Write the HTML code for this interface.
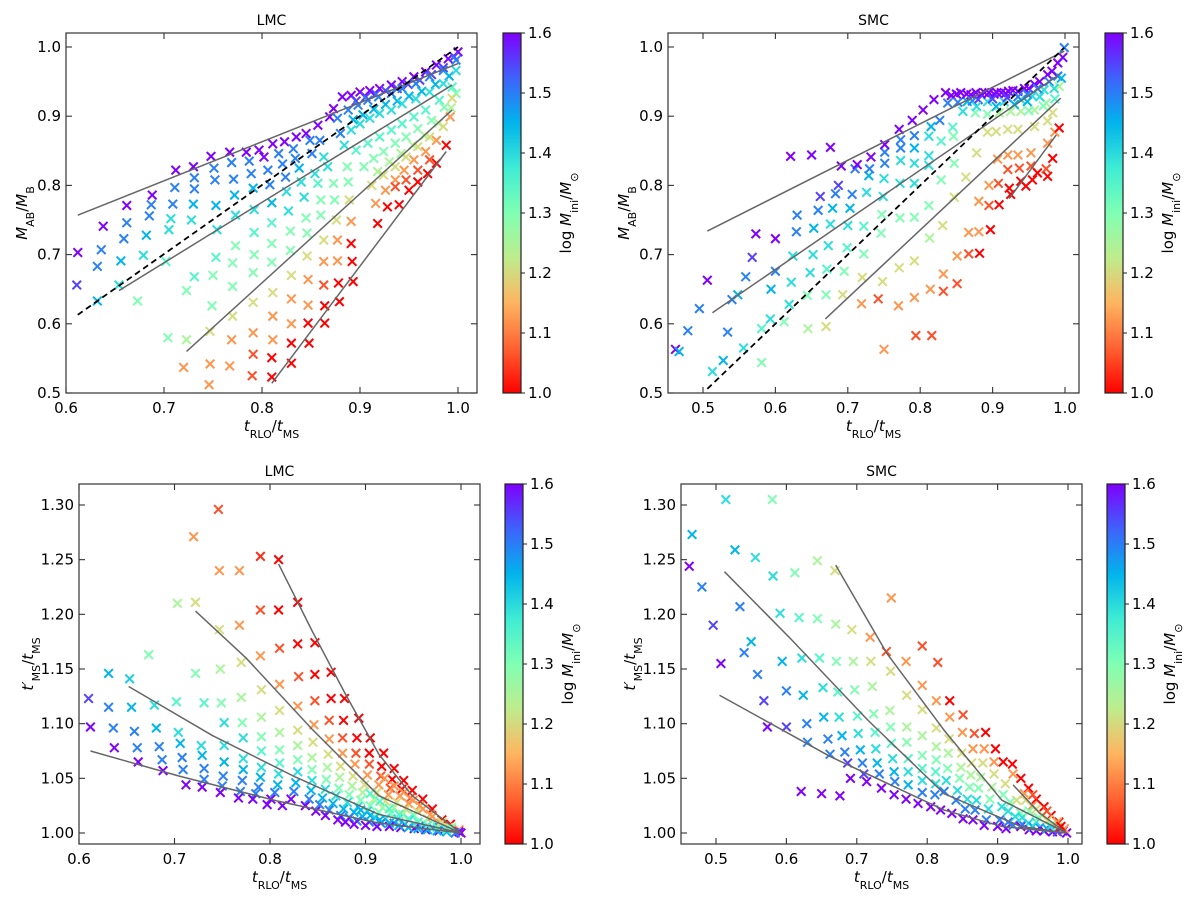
<!DOCTYPE html>
<html><head><meta charset="utf-8"><title>LMC / SMC mass ratio and lifetime charts</title>
<style>
html,body{margin:0;padding:0;background:#fff;}
svg{display:block;font-family:"DejaVu Sans","Liberation Sans",sans-serif;}
</style></head>
<body>
<svg id="fig" width="1200" height="899" viewBox="0 0 1200 899" xmlns="http://www.w3.org/2000/svg">
<defs>
<linearGradient id="rb" x1="0" y1="1" x2="0" y2="0">
<stop offset="0" stop-color="rgb(255,0,0)"/><stop offset="0.125" stop-color="rgb(255,98,49)"/>
<stop offset="0.25" stop-color="rgb(255,180,97)"/><stop offset="0.375" stop-color="rgb(191,236,141)"/>
<stop offset="0.5" stop-color="rgb(128,255,180)"/><stop offset="0.625" stop-color="rgb(63,236,212)"/>
<stop offset="0.75" stop-color="rgb(1,180,236)"/><stop offset="0.875" stop-color="rgb(63,98,251)"/>
<stop offset="1" stop-color="rgb(127,0,255)"/>
</linearGradient>
</defs>
<g font-size="14" text-anchor="middle">
<text x="271.5" y="25">LMC</text>
<text x="873.5" y="25">SMC</text>
<text x="279.5" y="476">LMC</text>
<text x="881.5" y="476">SMC</text>
</g>
<g font-size="15" text-anchor="middle">
<text x="271.5" y="431"><tspan font-style="italic">t</tspan><tspan baseline-shift="sub" font-size="11">RLO</tspan><tspan>/</tspan><tspan font-style="italic">t</tspan><tspan baseline-shift="sub" font-size="11">MS</tspan></text>
<text x="873.5" y="431"><tspan font-style="italic">t</tspan><tspan baseline-shift="sub" font-size="11">RLO</tspan><tspan>/</tspan><tspan font-style="italic">t</tspan><tspan baseline-shift="sub" font-size="11">MS</tspan></text>
<text x="279.5" y="882"><tspan font-style="italic">t</tspan><tspan baseline-shift="sub" font-size="11">RLO</tspan><tspan>/</tspan><tspan font-style="italic">t</tspan><tspan baseline-shift="sub" font-size="11">MS</tspan></text>
<text x="881.5" y="882"><tspan font-style="italic">t</tspan><tspan baseline-shift="sub" font-size="11">RLO</tspan><tspan>/</tspan><tspan font-style="italic">t</tspan><tspan baseline-shift="sub" font-size="11">MS</tspan></text>
<text transform="translate(27,213) rotate(-90)"><tspan font-style="italic">M</tspan><tspan baseline-shift="sub" font-size="11">AB</tspan><tspan>/</tspan><tspan font-style="italic">M</tspan><tspan baseline-shift="sub" font-size="11">B</tspan></text>
<text transform="translate(629,213) rotate(-90)"><tspan font-style="italic">M</tspan><tspan baseline-shift="sub" font-size="11">AB</tspan><tspan>/</tspan><tspan font-style="italic">M</tspan><tspan baseline-shift="sub" font-size="11">B</tspan></text>
<text transform="translate(33,664) rotate(-90)"><tspan font-style="italic">t′</tspan><tspan baseline-shift="sub" font-size="11">MS</tspan><tspan>/</tspan><tspan font-style="italic">t</tspan><tspan baseline-shift="sub" font-size="11">MS</tspan></text>
<text transform="translate(635,664) rotate(-90)"><tspan font-style="italic">t′</tspan><tspan baseline-shift="sub" font-size="11">MS</tspan><tspan>/</tspan><tspan font-style="italic">t</tspan><tspan baseline-shift="sub" font-size="11">MS</tspan></text>
<text transform="translate(571,213) rotate(-90)">log <tspan font-style="italic">M</tspan><tspan baseline-shift="sub" font-size="11">ini</tspan><tspan>/</tspan><tspan font-style="italic">M</tspan><tspan baseline-shift="sub" font-size="11">⊙</tspan></text>
<text transform="translate(1173,213) rotate(-90)">log <tspan font-style="italic">M</tspan><tspan baseline-shift="sub" font-size="11">ini</tspan><tspan>/</tspan><tspan font-style="italic">M</tspan><tspan baseline-shift="sub" font-size="11">⊙</tspan></text>
<text transform="translate(573,664) rotate(-90)">log <tspan font-style="italic">M</tspan><tspan baseline-shift="sub" font-size="11">ini</tspan><tspan>/</tspan><tspan font-style="italic">M</tspan><tspan baseline-shift="sub" font-size="11">⊙</tspan></text>
<text transform="translate(1175,664) rotate(-90)">log <tspan font-style="italic">M</tspan><tspan baseline-shift="sub" font-size="11">ini</tspan><tspan>/</tspan><tspan font-style="italic">M</tspan><tspan baseline-shift="sub" font-size="11">⊙</tspan></text>
</g>
</svg>
<script>
// ---- data: [x, y, logM] ----
const p1Pts=[[0.612,0.703,1.6],[0.611,0.656,1.55],[0.636,0.707,1.5],[0.632,0.683,1.5],[0.632,0.633,1.45],[0.638,0.741,1.6],[0.662,0.771,1.6],[0.662,0.746,1.5],[0.659,0.723,1.5],[0.656,0.691,1.45],[0.654,0.656,1.4],[0.673,0.633,1.3],[0.688,0.786,1.6],[0.687,0.772,1.5],[0.685,0.756,1.5],[0.682,0.728,1.45],[0.679,0.699,1.4],[0.705,0.736,1.4],[0.702,0.69,1.35],[0.704,0.58,1.3],[0.712,0.822,1.6],[0.711,0.797,1.5],[0.709,0.773,1.5],[0.707,0.752,1.4],[0.730,0.827,1.6],[0.731,0.811,1.5],[0.731,0.795,1.5],[0.730,0.773,1.45],[0.728,0.75,1.4],[0.731,0.668,1.35],[0.723,0.648,1.3],[0.723,0.577,1.25],[0.720,0.537,1.12],
[0.748,0.842,1.6],[0.751,0.825,1.5],[0.752,0.808,1.5],[0.753,0.771,1.45],[0.754,0.736,1.4],[0.753,0.696,1.35],[0.75,0.67,1.3],[0.749,0.626,1.3],[0.747,0.589,1.2],[0.747,0.542,1.12],[0.746,0.512,1.12],
[0.767,0.848,1.6],[0.769,0.833,1.5],[0.771,0.809,1.5],[0.772,0.786,1.45],[0.773,0.757,1.4],[0.773,0.713,1.3],[0.770,0.688,1.3],[0.770,0.654,1.3],[0.770,0.611,1.2],[0.769,0.577,1.12],[0.767,0.539,1.12],
[0.784,0.848,1.6],[0.787,0.835,1.5],[0.789,0.817,1.5],[0.791,0.796,1.45],[0.792,0.765,1.4],[0.792,0.732,1.35],[0.792,0.700,1.3],[0.791,0.674,1.3],[0.791,0.631,1.2],[0.791,0.587,1.12],[0.791,0.556,1.06],[0.790,0.525,1.06],
[0.797,0.851,1.6],[0.802,0.841,1.6],[0.806,0.822,1.5],[0.808,0.801,1.5],[0.810,0.775,1.45],[0.810,0.746,1.35],[0.810,0.716,1.3],[0.810,0.689,1.3],[0.811,0.645,1.2],[0.811,0.611,1.12],[0.811,0.577,1.12],[0.810,0.551,1.0],[0.810,0.523,1.0],
[0.811,0.860,1.6],[0.817,0.846,1.5],[0.821,0.831,1.5],[0.824,0.812,1.5],[0.825,0.791,1.4],[0.827,0.763,1.4],[0.829,0.734,1.3],[0.829,0.706,1.3],[0.830,0.670,1.2],[0.830,0.636,1.12],[0.830,0.600,1.12],[0.830,0.572,1.0],[0.830,0.543,1.0],
[0.823,0.863,1.6],[0.835,0.870,1.6],[0.832,0.853,1.5],[0.834,0.839,1.5],[0.838,0.825,1.45],[0.840,0.805,1.4],[0.843,0.783,1.4],[0.845,0.753,1.3],[0.846,0.731,1.3],[0.846,0.698,1.2],[0.847,0.664,1.12],[0.847,0.627,1.12],[0.847,0.601,1.0],[0.848,0.572,1.0],
[0.845,0.875,1.6],[0.849,0.865,1.5],[0.851,0.846,1.5],[0.854,0.817,1.4],[0.857,0.803,1.35],[0.860,0.779,1.3],[0.860,0.757,1.3],[0.863,0.721,1.2],[0.863,0.690,1.12],[0.863,0.656,1.06],[0.864,0.626,1.0],[0.864,0.601,1.0],
[0.857,0.887,1.6],[0.859,0.865,1.5],[0.863,0.841,1.4],[0.867,0.827,1.4],[0.873,0.803,1.3],[0.874,0.779,1.3],[0.876,0.750,1.2],[0.877,0.721,1.12],[0.877,0.691,1.12],[0.878,0.659,1.0],[0.879,0.632,1.0],
[0.869,0.899,1.6],[0.873,0.911,1.6],[0.882,0.928,1.6],[0.877,0.897,1.5],[0.880,0.875,1.5],[0.884,0.858,1.4],[0.887,0.827,1.3],[0.888,0.805,1.3],[0.889,0.779,1.2],[0.891,0.748,1.12],[0.891,0.716,1.0],[0.892,0.690,1.0],[0.893,0.661,1.0],
[0.891,0.930,1.6],[0.9,0.935,1.6],[0.91,0.937,1.6],[0.92,0.94,1.6],[0.932,0.945,1.6],[0.943,0.950,1.6],[0.955,0.957,1.6],[0.967,0.964,1.6],[0.978,0.974,1.6],[0.990,0.983,1.6],[1.0,0.993,1.6],
[0.896,0.922,1.55],[0.906,0.928,1.55],[0.916,0.932,1.55],[0.926,0.937,1.55],[0.938,0.940,1.55],[0.949,0.946,1.55],[0.961,0.952,1.55],[0.973,0.960,1.55],[0.985,0.970,1.55],[0.996,0.986,1.55],
[0.888,0.909,1.5],[0.898,0.916,1.5],[0.908,0.923,1.5],[0.919,0.928,1.5],[0.932,0.933,1.5],[0.943,0.940,1.5],[0.957,0.947,1.5],[0.971,0.957,1.5],[0.985,0.966,1.5],[0.998,0.981,1.5],
[0.893,0.895,1.45],[0.903,0.902,1.45],[0.914,0.910,1.45],[0.926,0.917,1.45],[0.938,0.922,1.45],[0.950,0.929,1.45],[0.963,0.936,1.45],[0.977,0.946,1.45],[0.991,0.958,1.45],
[0.891,0.880,1.4],[0.9,0.889,1.4],[0.91,0.897,1.4],[0.92,0.904,1.4],[0.932,0.909,1.4],[0.943,0.918,1.4],[0.957,0.925,1.4],[0.971,0.935,1.4],[0.985,0.947,1.4],[0.998,0.966,1.4],
[0.896,0.851,1.35],[0.908,0.861,1.35],[0.92,0.870,1.35],[0.932,0.880,1.35],[0.943,0.889,1.35],[0.955,0.899,1.35],[0.967,0.909,1.35],[0.981,0.923,1.35],[0.994,0.942,1.35],
[0.904,0.827,1.3],[0.914,0.839,1.3],[0.924,0.849,1.3],[0.936,0.861,1.3],[0.947,0.870,1.3],[0.959,0.882,1.3],[0.973,0.894,1.3],[0.986,0.913,1.3],[0.998,0.933,1.3],
[0.918,0.820,1.25],[0.930,0.834,1.25],[0.942,0.846,1.25],[0.954,0.858,1.25],[0.966,0.872,1.25],[0.980,0.890,1.25],[0.993,0.912,1.25],
[0.912,0.800,1.2],[0.924,0.815,1.2],[0.936,0.827,1.2],[0.947,0.841,1.2],[0.959,0.856,1.2],[0.971,0.870,1.2],[0.985,0.885,1.2],[0.994,0.926,1.2],
[0.916,0.774,1.12],[0.926,0.793,1.12],[0.936,0.808,1.12],[0.945,0.822,1.12],[0.955,0.837,1.12],[0.967,0.849,1.12],[0.978,0.865,1.12],[0.992,0.899,1.12],
[0.918,0.745,1.0],[0.928,0.769,1.0],[0.94,0.772,1.0],[0.95,0.793,1.0],[0.959,0.805,1.0],[0.969,0.817,1.0],[0.978,0.832,1.0],[0.988,0.858,1.0],[0.936,0.798,1.06],[0.947,0.808,1.06],[0.959,0.822,1.06],[0.971,0.837,1.06]];
const p1Fits=[[[0.612,0.757],[1.0,0.976]],[[0.654,0.648],[0.994,0.945]],[[0.723,0.560],[0.994,0.909]],[[0.810,0.514],[0.988,0.849]]];
const p1Dash=[[0.612,0.613],[1.0,1.0]];

const p2Pts=[[0.462,0.563,1.6],[0.467,0.560,1.45],[0.479,0.590,1.5],[0.495,0.622,1.5],[0.506,0.663,1.6],[0.513,0.531,1.4],[0.528,0.547,1.45],[0.534,0.588,1.5],[0.540,0.635,1.5],[0.548,0.642,1.45],[0.556,0.565,1.4],[0.559,0.668,1.5],[0.568,0.696,1.55],[0.573,0.730,1.6],[0.581,0.593,1.35],[0.581,0.544,1.3],[0.593,0.607,1.4],[0.594,0.650,1.45],[0.600,0.676,1.5],[0.600,0.723,1.6],[0.612,0.603,1.3],[0.619,0.628,1.4],[0.622,0.660,1.4],[0.624,0.698,1.4],[0.621,0.842,1.6],[0.629,0.733,1.5],[0.630,0.757,1.5],[0.644,0.641,1.3],[0.645,0.593,1.25],[0.648,0.674,1.4],[0.650,0.844,1.6],[0.652,0.700,1.4],[0.653,0.738,1.45],[0.659,0.764,1.5],[0.662,0.784,1.55],
[0.670,0.596,1.2],[0.670,0.642,1.3],[0.671,0.679,1.35],[0.673,0.713,1.4],[0.676,0.855,1.6],[0.676,0.744,1.4],[0.679,0.767,1.45],[0.683,0.788,1.5],[0.687,0.800,1.55],[0.691,0.828,1.6],[0.693,0.642,1.2],[0.695,0.676,1.3],[0.699,0.710,1.35],[0.700,0.742,1.4],[0.703,0.767,1.45],[0.706,0.787,1.5],[0.710,0.824,1.5],[0.713,0.830,1.6],
[0.719,0.629,1.12],[0.720,0.667,1.2],[0.722,0.701,1.3],[0.722,0.741,1.35],[0.726,0.790,1.4],[0.729,0.814,1.45],[0.730,0.824,1.5],[0.732,0.841,1.6],[0.742,0.636,1.06],[0.746,0.731,1.3],[0.747,0.758,1.3],[0.749,0.784,1.4],[0.750,0.810,1.4],[0.750,0.563,1.12],[0.748,0.661,1.2],[0.751,0.832,1.5],[0.751,0.848,1.5],[0.751,0.859,1.6],
[0.770,0.626,1.12],[0.771,0.681,1.2],[0.772,0.753,1.3],[0.772,0.803,1.4],[0.773,0.836,1.4],[0.773,0.854,1.5],[0.773,0.866,1.5],[0.771,0.881,1.6],[0.792,0.638,1.12],[0.792,0.691,1.2],[0.792,0.754,1.3],[0.792,0.803,1.4],[0.792,0.832,1.4],[0.792,0.854,1.45],[0.792,0.872,1.5],[0.789,0.894,1.6],
[0.794,0.583,1.06],[0.816,0.583,1.06],[0.814,0.650,1.12],[0.813,0.724,1.25],[0.812,0.771,1.3],[0.812,0.829,1.4],[0.812,0.843,1.4],[0.812,0.871,1.4],[0.815,0.885,1.45],[0.804,0.909,1.6],[0.819,0.924,1.6],[0.827,0.894,1.5],[0.829,0.864,1.35],[0.829,0.808,1.3],[0.831,0.742,1.2],[0.832,0.672,1.12],[0.832,0.647,1.06],
[0.835,0.934,1.6],[0.845,0.884,1.35],[0.846,0.871,1.3],[0.847,0.832,1.3],[0.847,0.783,1.2],[0.851,0.698,1.12],[0.851,0.658,1.06],[0.856,0.934,1.6],[0.859,0.907,1.4],[0.863,0.812,1.2],[0.867,0.732,1.12],[0.867,0.701,1.06],[0.877,0.934,1.6],[0.876,0.905,1.3],[0.878,0.847,1.2],[0.881,0.733,1.12],[0.881,0.777,1.12],[0.882,0.702,1.0],
[0.895,0.934,1.6],[0.893,0.903,1.3],[0.893,0.877,1.2],[0.895,0.800,1.12],[0.895,0.771,1.06],[0.897,0.736,1.0],[0.912,0.934,1.6],[0.909,0.905,1.25],[0.905,0.878,1.2],[0.907,0.838,1.12],[0.908,0.803,1.06],[0.909,0.772,1.0],
[0.928,0.937,1.6],[0.925,0.907,1.25],[0.921,0.881,1.2],[0.921,0.844,1.12],[0.921,0.823,1.06],[0.923,0.796,1.0],[0.925,0.787,1.0],[0.944,0.940,1.6],[0.939,0.924,1.4],[0.939,0.907,1.25],[0.935,0.881,1.2],[0.935,0.844,1.12],[0.937,0.825,1.06],[0.939,0.806,1.0],[0.946,0.799,1.0],
[0.958,0.946,1.6],[0.955,0.929,1.4],[0.958,0.909,1.25],[0.958,0.885,1.2],[0.953,0.847,1.12],[0.953,0.828,1.06],[0.955,0.808,1.0],[0.962,0.818,1.0],[0.976,0.960,1.6],[0.971,0.938,1.4],[0.974,0.919,1.25],[0.976,0.893,1.2],[0.976,0.861,1.12],[0.974,0.824,1.06],[0.976,0.813,1.0],[0.983,0.839,1.0],
[0.990,0.977,1.6],[0.990,0.958,1.5],[0.992,0.943,1.25],[0.983,0.905,1.2],[0.986,0.877,1.12],[0.992,0.883,1.0],[0.999,0.999,1.5],[0.997,0.985,1.6],[0.838,0.919,1.5],[0.865,0.921,1.45],[0.893,0.921,1.4],[0.916,0.921,1.4],
[0.843,0.930,1.6],[0.850,0.932,1.6],[0.864,0.932,1.6],[0.870,0.931,1.6],[0.884,0.932,1.6],[0.889,0.934,1.6],[0.902,0.932,1.6],[0.906,0.934,1.6],[0.918,0.933,1.6],[0.922,0.936,1.6],[0.935,0.936,1.6],[0.950,0.940,1.6],[0.965,0.950,1.6],[0.982,0.965,1.6],
[0.852,0.920,1.5],[0.872,0.922,1.5],[0.880,0.924,1.55],[0.900,0.925,1.55],[0.920,0.927,1.55],[0.935,0.928,1.5],[0.948,0.932,1.5],[0.962,0.940,1.5],[0.978,0.950,1.5],
[0.878,0.914,1.4],[0.905,0.914,1.45],[0.930,0.917,1.45],[0.948,0.921,1.45],[0.965,0.928,1.4],[0.985,0.940,1.4],[0.986,0.925,1.35],[0.970,0.915,1.3],[0.950,0.908,1.3],[0.995,0.955,1.45]];
const p2Fits=[[[0.506,0.734],[0.999,0.994]],[[0.513,0.616],[0.992,0.960]],[[0.669,0.607],[0.994,0.926]],[[0.923,0.781],[0.988,0.873]]];
const p2Dash=[[0.506,0.506],[0.999,0.999]];

const p3Pts=[[0.610,1.123,1.55],[0.612,1.097,1.6],[0.631,1.146,1.45],[0.631,1.115,1.5],[0.636,1.096,1.5],[0.637,1.078,1.6],[0.653,1.141,1.42],[0.655,1.115,1.45],[0.658,1.093,1.5],[0.661,1.078,1.5],[0.662,1.065,1.6],[0.673,1.163,1.3],[0.679,1.117,1.4],[0.681,1.096,1.45],[0.684,1.079,1.5],[0.687,1.067,1.5],[0.688,1.057,1.6],
[0.703,1.210,1.25],[0.702,1.120,1.35],[0.704,1.092,1.4],[0.706,1.082,1.45],[0.708,1.069,1.5],[0.709,1.058,1.5],[0.712,1.044,1.6],[0.720,1.271,1.12],[0.722,1.211,1.2],[0.722,1.146,1.3],[0.731,1.119,1.35],[0.728,1.080,1.4],[0.729,1.071,1.45],[0.731,1.059,1.5],[0.731,1.049,1.5],[0.729,1.042,1.6],
[0.746,1.296,1.06],[0.747,1.240,1.12],[0.747,1.186,1.2],[0.748,1.150,1.25],[0.749,1.119,1.3],[0.752,1.101,1.4],[0.752,1.080,1.4],[0.752,1.065,1.45],[0.751,1.052,1.5],[0.750,1.043,1.5],[0.748,1.037,1.6],
[0.768,1.240,1.12],[0.768,1.190,1.12],[0.770,1.156,1.2],[0.770,1.124,1.25],[0.771,1.101,1.3],[0.772,1.087,1.4],[0.772,1.068,1.4],[0.772,1.058,1.45],[0.771,1.048,1.5],[0.769,1.038,1.5],[0.767,1.032,1.6],
[0.790,1.253,1.03],[0.790,1.204,1.06],[0.790,1.162,1.12],[0.791,1.131,1.2],[0.791,1.106,1.25],[0.791,1.088,1.3],[0.791,1.075,1.35],[0.791,1.060,1.4],[0.790,1.051,1.45],[0.788,1.042,1.5],[0.785,1.036,1.5],[0.782,1.031,1.6],
[0.809,1.250,1.0],[0.809,1.204,1.0],[0.810,1.169,1.06],[0.810,1.136,1.12],[0.810,1.112,1.2],[0.810,1.092,1.25],[0.810,1.076,1.3],[0.810,1.064,1.35],[0.809,1.054,1.4],[0.808,1.044,1.45],[0.805,1.037,1.5],[0.801,1.031,1.6],[0.797,1.026,1.6],
[0.829,1.211,1.0],[0.829,1.173,1.0],[0.830,1.143,1.06],[0.829,1.116,1.12],[0.829,1.094,1.2],[0.829,1.080,1.25],[0.829,1.067,1.3],[0.829,1.056,1.4],[0.827,1.046,1.45],[0.825,1.038,1.5],[0.822,1.031,1.6],[0.813,1.025,1.6],
[0.847,1.174,1.0],[0.847,1.145,1.0],[0.847,1.121,1.06],[0.846,1.099,1.12],[0.845,1.083,1.2],[0.844,1.069,1.25],[0.844,1.058,1.3],[0.844,1.048,1.4],[0.843,1.039,1.45],[0.841,1.031,1.5],[0.837,1.025,1.6],
[0.864,1.147,1.0],[0.864,1.123,1.0],[0.862,1.103,1.06],[0.862,1.086,1.12],[0.861,1.072,1.2],[0.860,1.060,1.25],[0.859,1.049,1.3],[0.858,1.040,1.4],[0.855,1.032,1.45],[0.852,1.026,1.5],[0.848,1.020,1.6],
[0.878,1.123,1.0],[0.877,1.103,1.0],[0.876,1.087,1.06],[0.876,1.073,1.12],[0.874,1.061,1.2],[0.873,1.051,1.25],[0.872,1.041,1.3],[0.869,1.034,1.4],[0.866,1.027,1.45],[0.862,1.021,1.5],[0.858,1.016,1.6],
[0.893,1.105,1.0],[0.891,1.087,1.0],[0.890,1.073,1.06],[0.889,1.063,1.12],[0.887,1.052,1.2],[0.886,1.043,1.25],[0.883,1.035,1.3],[0.881,1.028,1.4],[0.877,1.022,1.45],[0.874,1.016,1.5],[0.871,1.012,1.6],
[0.905,1.087,1.0],[0.904,1.073,1.0],[0.904,1.063,1.06],[0.902,1.053,1.12],[0.899,1.044,1.2],[0.897,1.037,1.25],[0.895,1.030,1.3],[0.892,1.024,1.4],[0.888,1.019,1.45],[0.883,1.014,1.5],[0.879,1.010,1.6],
[0.919,1.073,1.0],[0.917,1.061,1.0],[0.916,1.052,1.06],[0.914,1.044,1.12],[0.912,1.037,1.2],[0.909,1.031,1.25],[0.905,1.025,1.3],[0.902,1.020,1.4],[0.897,1.015,1.45],[0.891,1.011,1.5],[0.888,1.008,1.6],
[0.930,1.059,1.0],[0.928,1.049,1.0],[0.926,1.041,1.06],[0.924,1.035,1.12],[0.921,1.029,1.2],[0.918,1.023,1.25],[0.914,1.019,1.3],[0.910,1.014,1.4],[0.904,1.010,1.5],[0.900,1.007,1.6],
[0.940,1.048,1.0],[0.938,1.040,1.0],[0.936,1.034,1.12],[0.933,1.028,1.2],[0.930,1.023,1.25],[0.926,1.018,1.3],[0.921,1.013,1.4],[0.916,1.009,1.5],[0.912,1.006,1.6],
[0.949,1.039,1.0],[0.947,1.032,1.06],[0.945,1.027,1.12],[0.942,1.022,1.2],[0.939,1.017,1.25],[0.934,1.013,1.4],[0.930,1.009,1.5],[0.925,1.006,1.6],
[0.960,1.031,1.0],[0.957,1.025,1.12],[0.954,1.020,1.2],[0.951,1.016,1.3],[0.946,1.012,1.4],[0.941,1.008,1.5],[0.937,1.005,1.6],
[0.970,1.022,1.0],[0.968,1.017,1.12],[0.965,1.013,1.2],[0.961,1.009,1.3],[0.956,1.006,1.5],[0.951,1.004,1.6],
[0.980,1.012,1.0],[0.979,1.009,1.12],[0.975,1.007,1.3],[0.970,1.005,1.5],[0.963,1.003,1.6],[0.989,1.008,1.0],[0.987,1.005,1.2],[0.984,1.003,1.4],[0.977,1.002,1.6],[0.998,1.003,1.12],[0.998,1.001,1.6],[1.0,1.000,1.6],[0.994,1.000,1.5],
[0.895,1.021,1.45],[0.905,1.016,1.45],[0.915,1.012,1.45],[0.925,1.009,1.45],[0.935,1.007,1.45],[0.945,1.005,1.45],[0.955,1.004,1.45],[0.965,1.003,1.45],[0.975,1.002,1.45],[0.985,1.001,1.45],
[0.905,1.036,1.35],[0.915,1.029,1.35],[0.925,1.022,1.35],[0.935,1.017,1.35],[0.945,1.013,1.35],[0.955,1.010,1.35],[0.965,1.007,1.35],[0.975,1.005,1.35],[0.985,1.003,1.35],
[0.920,1.050,1.12],[0.930,1.043,1.12],[0.940,1.037,1.12],[0.950,1.030,1.12],[0.960,1.022,1.12],[0.970,1.015,1.12],[0.980,1.010,1.2],[0.990,1.005,1.3]];
const p3Fits=[[[0.612,1.075],[0.705,1.052],[0.809,1.029],[0.914,1.009],[1.0,1.0]],
[[0.652,1.134],[0.740,1.089],[0.827,1.051],[0.914,1.017],[1.0,1.0]],
[[0.722,1.203],[0.775,1.160],[0.844,1.095],[0.914,1.034],[1.0,1.0]],
[[0.809,1.246],[0.844,1.185],[0.879,1.127],[0.914,1.072],[0.949,1.034],[1.0,1.0]]];

const p4Pts=[[0.462,1.244,1.6],[0.466,1.273,1.45],[0.480,1.225,1.5],[0.496,1.190,1.55],[0.507,1.155,1.6],[0.514,1.305,1.4],[0.527,1.259,1.45],[0.534,1.207,1.5],[0.540,1.165,1.5],[0.550,1.175,1.45],[0.556,1.252,1.4],[0.559,1.145,1.5],[0.568,1.121,1.55],[0.573,1.097,1.6],[0.580,1.305,1.3],[0.581,1.235,1.4],[0.591,1.201,1.4],[0.594,1.157,1.45],[0.600,1.130,1.5],[0.600,1.097,1.55],
[0.612,1.238,1.3],[0.618,1.197,1.35],[0.622,1.160,1.4],[0.624,1.126,1.45],[0.621,1.038,1.6],[0.629,1.100,1.5],[0.630,1.083,1.5],[0.644,1.249,1.25],[0.644,1.196,1.3],[0.647,1.160,1.35],[0.652,1.133,1.4],[0.653,1.106,1.45],[0.650,1.036,1.6],[0.659,1.086,1.5],[0.662,1.072,1.5],
[0.669,1.240,1.2],[0.670,1.191,1.25],[0.671,1.157,1.3],[0.673,1.129,1.35],[0.675,1.106,1.4],[0.679,1.089,1.45],[0.683,1.074,1.5],[0.676,1.034,1.6],[0.687,1.064,1.55],[0.691,1.050,1.6],[0.693,1.186,1.2],[0.695,1.157,1.25],[0.697,1.131,1.3],[0.701,1.107,1.35],[0.702,1.091,1.4],[0.705,1.076,1.45],[0.708,1.064,1.5],[0.710,1.054,1.55],[0.714,1.047,1.6],
[0.719,1.179,1.12],[0.720,1.157,1.2],[0.722,1.134,1.25],[0.724,1.109,1.3],[0.726,1.092,1.35],[0.727,1.077,1.4],[0.729,1.064,1.45],[0.732,1.054,1.5],[0.735,1.041,1.6],[0.742,1.166,1.06],[0.748,1.148,1.2],[0.749,1.215,1.12],[0.747,1.112,1.25],[0.748,1.097,1.3],[0.749,1.082,1.35],[0.751,1.068,1.4],[0.753,1.056,1.45],[0.754,1.047,1.5],[0.753,1.035,1.6],
[0.770,1.157,1.12],[0.771,1.126,1.2],[0.771,1.097,1.25],[0.771,1.083,1.3],[0.773,1.068,1.35],[0.773,1.056,1.4],[0.773,1.044,1.45],[0.770,1.031,1.6],[0.793,1.171,1.06],[0.793,1.135,1.12],[0.793,1.113,1.2],[0.793,1.089,1.25],[0.793,1.071,1.3],[0.793,1.059,1.35],[0.793,1.048,1.4],[0.793,1.037,1.5],[0.787,1.027,1.6],
[0.815,1.156,1.06],[0.813,1.121,1.12],[0.813,1.096,1.2],[0.813,1.079,1.25],[0.813,1.067,1.3],[0.812,1.056,1.35],[0.812,1.045,1.4],[0.811,1.035,1.5],[0.805,1.024,1.6],[0.832,1.121,1.0],[0.832,1.106,1.12],[0.831,1.086,1.2],[0.830,1.073,1.25],[0.829,1.059,1.3],[0.827,1.048,1.4],[0.824,1.038,1.5],[0.819,1.021,1.6],
[0.851,1.108,1.06],[0.850,1.092,1.12],[0.849,1.073,1.2],[0.848,1.060,1.25],[0.846,1.050,1.3],[0.843,1.039,1.4],[0.841,1.030,1.5],[0.835,1.018,1.6],[0.867,1.091,1.06],[0.883,1.092,1.0],[0.865,1.077,1.12],[0.863,1.064,1.2],[0.862,1.053,1.25],[0.860,1.042,1.3],[0.857,1.031,1.4],[0.854,1.022,1.5],[0.851,1.013,1.6],
[0.881,1.077,1.12],[0.897,1.077,1.0],[0.879,1.064,1.2],[0.876,1.051,1.25],[0.873,1.041,1.3],[0.870,1.030,1.4],[0.868,1.021,1.5],[0.865,1.012,1.6],[0.895,1.065,1.12],[0.908,1.065,1.0],[0.921,1.063,1.0],[0.895,1.054,1.2],[0.892,1.042,1.25],[0.889,1.031,1.3],[0.887,1.022,1.4],[0.884,1.012,1.5],[0.881,1.007,1.6],
[0.922,1.054,1.12],[0.933,1.050,1.0],[0.911,1.045,1.2],[0.908,1.035,1.3],[0.906,1.024,1.4],[0.903,1.012,1.5],[0.900,1.006,1.6],[0.944,1.041,1.0],[0.955,1.031,1.0],[0.966,1.024,1.0],[0.976,1.016,1.0],[0.987,1.010,1.0],[0.938,1.036,1.12],[0.949,1.025,1.12],[0.963,1.016,1.2],[0.927,1.030,1.2],[0.933,1.018,1.3],[0.925,1.015,1.4],[0.944,1.009,1.4],[0.922,1.007,1.5],[0.960,1.005,1.5],[0.933,1.006,1.6],[0.966,1.002,1.6],[0.993,1.002,1.6],[0.998,1.000,1.6],[0.995,1.004,1.12],[0.976,1.007,1.3],
[0.912,1.004,1.6],[0.945,1.003,1.6],[0.955,1.002,1.6],[0.978,1.001,1.6],[0.985,1.001,1.55],[0.915,1.010,1.5],[0.935,1.008,1.5],[0.950,1.006,1.45],[0.970,1.004,1.45],[0.915,1.020,1.4],[0.935,1.014,1.4],[0.955,1.010,1.4],[0.975,1.006,1.4],[0.918,1.028,1.3],[0.945,1.020,1.3],[0.958,1.014,1.3],[0.985,1.006,1.3],[0.940,1.030,1.2],[0.955,1.022,1.2],[0.972,1.012,1.2],[0.985,1.010,1.12],[0.970,1.020,1.06],[0.950,1.035,1.06],[0.990,1.006,1.0]];
const p4Fits=[[[0.505,1.126],[0.662,1.070],[0.824,1.021],[0.906,1.006],[0.998,1.0]],
[[0.512,1.239],[0.607,1.177],[0.716,1.103],[0.824,1.036],[0.933,1.006],[0.998,1.0]],
[[0.670,1.245],[0.743,1.164],[0.824,1.094],[0.906,1.030],[0.998,1.0]],
[[0.922,1.044],[0.960,1.018],[0.998,1.0]]];

const topXTicks=[0.6,0.7,0.8,0.9,1.0];
const smcXTicks=[0.5,0.6,0.7,0.8,0.9,1.0];
const topYTicks=[0.5,0.6,0.7,0.8,0.9,1.0];
const botYTicks=[1.00,1.05,1.10,1.15,1.20,1.25,1.30];
const cbTicks=[1.0,1.1,1.2,1.3,1.4,1.5,1.6];

// ---- rendering ----
const NS='http://www.w3.org/2000/svg';
const svg=document.getElementById('fig');
function mk(tag,attrs,parent){const e=document.createElementNS(NS,tag);for(const k in attrs)e.setAttribute(k,attrs[k]);(parent||svg).appendChild(e);return e;}
function lin(d0,d1,r0,r1){return v=>r0+(v-d0)*(r1-r0)/(d1-d0);}
function rainbow(v){const x=Math.min(1,Math.max(0,(1.6-v)/0.6));const r=Math.min(1,Math.abs(2*x-0.5)),g=Math.sin(Math.PI*x),b=Math.cos(Math.PI*x/2);return 'rgb('+Math.round(r*255)+','+Math.round(g*255)+','+Math.round(b*255)+')';}

const panels=[
 {id:'lmc-top',L:66,R:477,T:33,B:393,xs:lin(0.6,1.0,66,458),ys:lin(0.5,1.0,393,47),xt:topXTicks,yt:topYTicks,yd:1,pts:p1Pts,fits:p1Fits,dash:p1Dash,cb:503},
 {id:'smc-top',L:668,R:1079,T:33,B:393,xs:lin(0.5,1.0,703,1065),ys:lin(0.5,1.0,393,47),xt:smcXTicks,yt:topYTicks,yd:1,pts:p2Pts,fits:p2Fits,dash:p2Dash,cb:1105},
 {id:'lmc-bottom',L:79,R:480,T:484,B:844,xs:lin(0.6,1.0,79,461),ys:lin(1.0,1.3,833,505),xt:topXTicks,yt:botYTicks,yd:2,pts:p3Pts,fits:p3Fits,dash:null,cb:505},
 {id:'smc-bottom',L:681,R:1082,T:484,B:844,xs:lin(0.5,1.0,716,1068),ys:lin(1.0,1.3,833,505),xt:smcXTicks,yt:botYTicks,yd:2,pts:p4Pts,fits:p4Fits,dash:null,cb:1107}
];

panels.forEach(p=>{
 const g=mk('g',{});
 
 
 const cid='clip-'+p.id;
 const cp=mk('clipPath',{id:cid},g);
 mk('rect',{x:p.L,y:p.T,width:p.R-p.L,height:p.B-p.T},cp);
 const pg=mk('g',{'clip-path':'url(#'+cid+')'},g);
 
 
 const s=4.3;
 p.pts.forEach(d=>{
  const cx=p.xs(d[0]),cy=p.ys(d[1]);
  const m=mk('path',{d:'M'+(cx-s)+' '+(cy-s)+'L'+(cx+s)+' '+(cy+s)+'M'+(cx-s)+' '+(cy+s)+'L'+(cx+s)+' '+(cy-s),stroke:rainbow(d[2]),'stroke-width':2.0,fill:'none'},pg);
  
  
 });
 p.fits.forEach((f,i)=>{
  const l=mk('polyline',{points:f.map(q=>p.xs(q[0])+','+p.ys(q[1])).join(' '),stroke:'#666','stroke-width':1.5,fill:'none','stroke-linejoin':'round'},pg);
  
  
 });
 if(p.dash){
  const l=mk('polyline',{points:p.dash.map(q=>p.xs(q[0])+','+p.ys(q[1])).join(' '),stroke:'#000','stroke-width':1.8,'stroke-dasharray':'6,4',fill:'none'},pg);
  
  
 }
 const fr=mk('rect',{x:p.L,y:p.T,width:p.R-p.L,height:p.B-p.T,fill:'none',stroke:'#333','stroke-width':1.2},g);
 
 
 const tg=mk('g',{stroke:'#333','stroke-width':1.1},g);
 const lg=mk('g',{'font-size':15,fill:'#000'},g);
 
 
 p.xt.forEach(v=>{
  const x=p.xs(v);
  mk('line',{x1:x,y1:p.B,x2:x,y2:p.B-6},tg);
  mk('line',{x1:x,y1:p.T,x2:x,y2:p.T+6},tg);
  const t=mk('text',{x:x,y:p.B+20,'text-anchor':'middle'},lg);
  t.textContent=v.toFixed(1);
  
  
 });
 p.yt.forEach(v=>{
  const y=p.ys(v);
  mk('line',{x1:p.L,y1:y,x2:p.L+6,y2:y},tg);
  mk('line',{x1:p.R,y1:y,x2:p.R-6,y2:y},tg);
  const t=mk('text',{x:p.L-5,y:y+5,'text-anchor':'end'},lg);
  t.textContent=v.toFixed(p.yd);
  
  
 });
 const cs=lin(1.0,1.6,p.B,p.T);
 const cb=mk('rect',{x:p.cb,y:p.T,width:18,height:p.B-p.T,fill:'url(#rb)',stroke:'#222','stroke-width':1.2},g);
 
 
 cbTicks.forEach(v=>{
  const y=cs(v);
  mk('line',{x1:p.cb+18,y1:y,x2:p.cb+22,y2:y},tg);
  const t=mk('text',{x:p.cb+25,y:y+5,'text-anchor':'start'},lg);
  t.textContent=v.toFixed(1);
  
  
 });
});
</script>
</body></html>
